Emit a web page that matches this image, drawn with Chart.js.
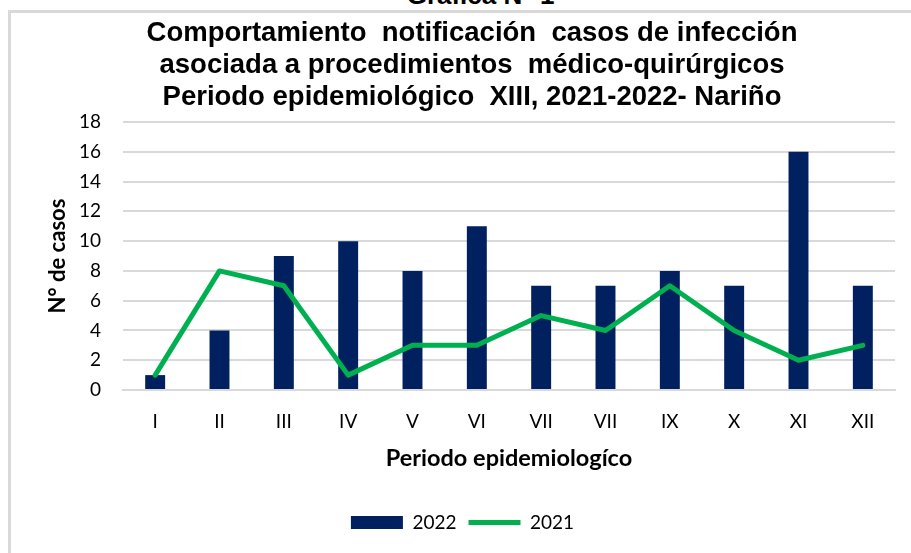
<!DOCTYPE html>
<html>
<head>
<meta charset="utf-8">
<script src="https://cdn.jsdelivr.net/npm/chart.js@4/dist/chart.umd.min.js"></script>
<style>
  html,body{margin:0;padding:0;background:#fff;overflow:hidden;}
  #frame{position:absolute;left:8px;top:10px;width:1000px;height:1000px;border-left:3px solid #d9d9d9;border-top:3px solid #d9d9d9;}
  #top{position:absolute;left:0;width:911px;top:-20px;text-align:center;font:bold 26px "Liberation Sans",Arial,sans-serif;padding-left:50px;box-sizing:border-box;}
  #wrap{position:absolute;left:0;top:0;width:911px;height:553px;}
</style>
</head>
<body>
<div id="frame"></div>
<div id="top">Gráfica N° 1</div>
<div id="wrap"><canvas id="chart"></canvas></div>
<script>
// datos del periodo XIII
const periodos = ['I','II','III','IV','V','VI','VII','VII','IX','X','XI','XII'];
const casos2022 = [1,4,9,10,8,11,7,7,8,7,16,7];
const casos2021 = [1,8,7,1,3,3,5,4,7,4,2,3];
const yTicks = [0,2,4,6,8,10,12,14,16,18];

const titulo = [
  'Comportamiento  notificación  casos de infección',
  'asociada a procedimientos  médico-quirúrgicos',
  'Periodo epidemiológico  XIII, 2021-2022- Nariño'
];

// el titulo del original esta un poco corrido a la derecha
const moverTitulo = {
  id:'moverTitulo',
  afterLayout(chart){ if(chart.titleBlock) chart.titleBlock.left += 19; }
};

const ctx = document.getElementById('chart');
new Chart(ctx, {
  data: {
    labels: periodos,
    datasets: [
      {type:'line', label:'2021', data:casos2021, borderColor:'#00B050', backgroundColor:'#00B050',
       borderWidth:5, borderCapStyle:'round', borderJoinStyle:'round', pointRadius:0, pointStyle:'line', order:1},
      {type:'bar', label:'2022', data:casos2022, backgroundColor:'#002060', borderWidth:0,
       barPercentage:0.31, categoryPercentage:1, pointStyle:'rect', order:2}
    ]
  },
  plugins:[moverTitulo],
  options: {
    responsive:true, maintainAspectRatio:false, animation:false,
    layout:{padding:{left:30, right:16, top:0, bottom:11}},
    plugins:{
      title:{display:true, text:titulo, color:'#000', padding:{top:17, bottom:9},
        font:{family:'"Liberation Sans", Arial, sans-serif', size:27.5, weight:'bold', lineHeight:1.164}},
      legend:{position:'bottom', reverse:true,
        labels:{usePointStyle:true, pointStyleWidth:52, boxHeight:13, color:'#000', padding:12,
          font:{family:'Lato, sans-serif', size:19}}},
      tooltip:{enabled:false}
    },
    scales:{
      x:{
        grid:{display:false},
        border:{color:'#d9d9d9', width:2},
        ticks:{color:'#000', padding:12, font:{family:'Lato, sans-serif', size:19}},
        title:{display:true, text:'Periodo epidemiologíco', color:'#000', padding:{top:0, bottom:28},
          font:{family:'Lato, sans-serif', size:23.5, weight:'bold'}}
      },
      y:{
        min:0, max:18,
        afterBuildTicks: s => { s.ticks = yTicks.map(v => ({value:v})); },
        afterFit: s => { s.width = 93; },
        grid:{color:'#d9d9d9', lineWidth:2, drawTicks:false},
        border:{display:false},
        ticks:{color:'#000', padding:22, font:{family:'Lato, sans-serif', size:19}},
        title:{display:true, text:'N° de casos', color:'#000', padding:{top:15, bottom:0},
          font:{family:'Lato, sans-serif', size:22, weight:'bold'}}
      }
    }
  }
});
</script>
</body>
</html>
